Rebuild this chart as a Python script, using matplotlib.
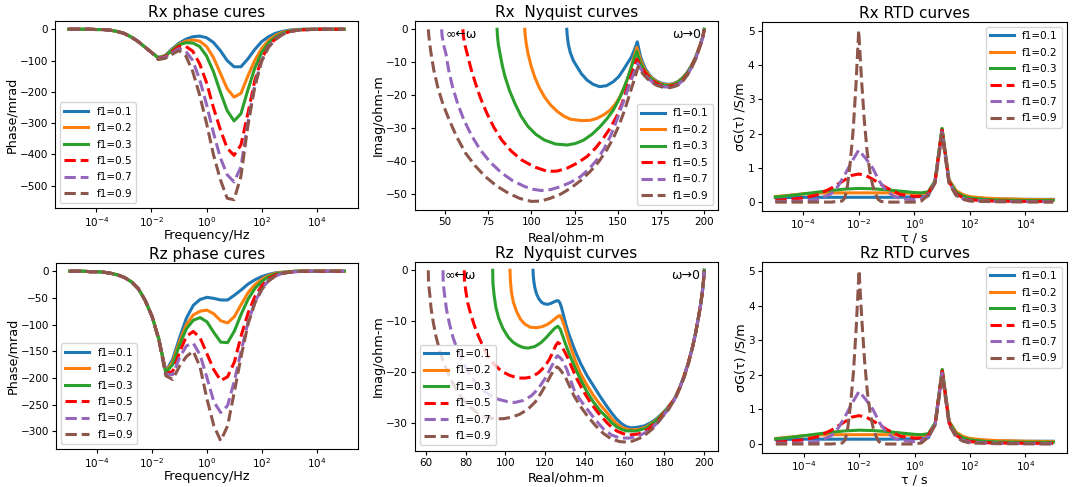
import numpy as np
import matplotlib
matplotlib.use("Agg")
import matplotlib.pyplot as plt
from matplotlib.ticker import NullLocator

# ---- common series styling ----
labels = ["f1=0.1", "f1=0.2", "f1=0.3", "f1=0.5", "f1=0.7", "f1=0.9"]
colors = ["#1f77b4", "#ff7f0e", "#2ca02c", "red", "#9467bd", "#8c564b"]
styles = ["-", "-", "-", "--", "--", "--"]

# ---- phase curves (mrad), sampled at log10(f) = -5, -4.75, ..., 5 ----
freq_exp = np.linspace(-5, 5, 41)

rx_phase_01 = [0, 0, 0, 0, -1, -1, -3, -7, -13, -24, -38, -56, -74, -90, -84, -63, -45, -32, -24, -22, -27,
               -42, -68, -100, -120, -120, -95, -65, -40, -24, -13, -7, -3, -1, 0, 0, 0, 0, 0, 0, 0]
rx_phase_02 = [0, 0, 0, 0, -1, -1, -3, -7, -13, -24, -38, -56, -74, -91, -85, -66, -48, -38, -34, -38, -55,
               -90, -140, -190, -217, -205, -150, -100, -62, -36, -20, -10, -5, -2, -1, 0, 0, 0, 0, 0, 0]
rx_phase_03 = [0, 0, 0, 0, -1, -1, -3, -7, -13, -24, -38, -56, -74, -92, -86, -68, -50, -43, -44, -55, -85,
               -135, -200, -260, -293, -270, -195, -125, -75, -44, -25, -13, -6, -3, -1, 0, 0, 0, 0, 0, 0]
rx_phase_05 = [0, 0, 0, 0, -1, -1, -3, -7, -13, -24, -38, -56, -74, -93, -88, -72, -55, -55, -70, -110, -170,
               -250, -320, -380, -403, -370, -270, -165, -95, -54, -31, -16, -8, -4, -2, -1, 0, 0, 0, 0, 0]
rx_phase_07 = [0, 0, 0, 0, -1, -1, -3, -7, -13, -24, -38, -56, -74, -94, -90, -76, -62, -70, -100, -160, -240,
               -330, -410, -465, -488, -440, -300, -180, -100, -56, -32, -17, -8, -4, -2, -1, 0, 0, 0, 0, 0]
rx_phase_09 = [0, 0, 0, 0, -1, -1, -3, -7, -13, -24, -38, -56, -74, -97, -93, -80, -68, -85, -135, -210, -300,
               -400, -480, -540, -545, -470, -310, -185, -103, -58, -33, -17, -8, -4, -2, -1, 0, 0, 0, 0, 0]

rz_phase_01 = [0, 0, 0, -1, -1, -2, -4, -7, -12, -20, -33, -55, -85, -128, -188, -165, -125, -88, -64, -53, -49,
               -51, -54, -54, -45, -35, -24, -16, -10, -6, -3, -2, -1, 0, 0, 0, 0, 0, 0, 0, 0]
rz_phase_02 = [0, 0, 0, -1, -1, -2, -4, -7, -12, -20, -33, -55, -85, -128, -189, -170, -132, -100, -82, -75, -73,
               -80, -93, -97, -85, -62, -40, -25, -15, -8, -4, -2, -1, 0, 0, 0, 0, 0, 0, 0, 0]
rz_phase_03 = [0, 0, 0, -1, -1, -2, -4, -7, -12, -20, -33, -55, -85, -128, -190, -175, -138, -108, -92, -87, -95,
               -115, -133, -134, -112, -80, -52, -32, -19, -10, -5, -3, -1, 0, 0, 0, 0, 0, 0, 0, 0]
rz_phase_05 = [0, 0, 0, -1, -1, -2, -4, -7, -12, -20, -33, -55, -85, -129, -192, -188, -152, -122, -113, -125, -155,
               -185, -205, -198, -170, -120, -78, -47, -27, -14, -7, -4, -2, -1, 0, 0, 0, 0, 0, 0, 0]
rz_phase_07 = [0, 0, 0, -1, -1, -2, -4, -7, -12, -20, -33, -55, -85, -129, -193, -194, -162, -140, -135, -157, -200,
               -245, -265, -252, -205, -148, -95, -57, -33, -17, -9, -4, -2, -1, 0, 0, 0, 0, 0, 0, 0]
rz_phase_09 = [0, 0, 0, -1, -1, -2, -4, -7, -12, -20, -33, -55, -85, -130, -196, -203, -178, -160, -150, -180, -240,
               -290, -318, -290, -225, -158, -98, -59, -34, -18, -9, -4, -2, -1, 0, 0, 0, 0, 0, 0, 0]

# ---- Rx Nyquist curves (real, imag in ohm-m) ----
rx_nyq_real_01 = [120.5, 120.8, 121.4, 122.5, 124.3, 126.5, 129, 132.2, 135.8, 139.5, 143.5, 147.4, 150.5, 153.1,
                  155.7, 157.9, 159.8, 161.3, 162.2, 163, 164.5, 166, 168, 170, 172.5, 175, 177.5, 180, 182.5, 185,
                  187.5, 190, 192.5, 195, 196.8, 198, 199.3, 200]
rx_nyq_imag_01 = [0, -2, -4.5, -7, -9.5, -11.4, -13.5, -15.4, -16.7, -17.4, -17.1, -15.9, -14.4, -12.4,
                  -10.2, -8.4, -6, -3.8, -6, -8, -10.2, -12, -13.6, -14.8, -15.7, -16.3, -16.6, -16.7, -16.4, -15.8,
                  -14.7, -13.2, -11.1, -8.5, -6, -4.2, -2, 0]
rx_nyq_real_02 = [96.2, 96.5, 97.1, 98.1, 99.8, 101.9, 104.5, 107.6, 111.2, 115.2, 119, 122.8, 129.4, 134, 138, 142,
                  145.6, 148.6, 151.2, 153.8, 156, 157.6, 158.8, 160, 161, 162, 163, 164.5, 166, 168, 170, 172.5, 175,
                  177.5, 180, 182.5, 185, 187.5, 190, 192.5, 195, 196.8, 198, 199.3, 200]
rx_nyq_imag_02 = [0, -2, -4.5, -7.4, -11, -14.4, -17.6, -20.5, -23, -25, -26.4, -27.3, -27.7, -27.6, -27, -25.9,
                  -24.5, -22.7, -20.5, -17.6, -14.4, -11.8, -9.4, -7.3, -5.5, -7.3, -9, -11, -12.5, -13.9, -15, -15.9,
                  -16.5, -16.8, -16.8, -16.5, -15.9, -14.8, -13.3, -11.2, -8.5, -6, -4.2, -2, 0]
rx_nyq_real_03 = [80.2, 80.4, 80.9, 81.9, 83.2, 84.8, 87.4, 90.5, 94, 98.1, 102.7, 107.6, 114, 120.8, 125.7, 130.3,
                  135.2, 139.8, 143.8, 147.4, 150.4, 153.1, 155.6, 157.9, 159.6, 161, 162, 163, 164.5, 166, 168, 170,
                  172.5, 175, 177.5, 180, 182.5, 185, 187.5, 190, 192.5, 195, 196.8, 198, 199.3, 200]
rx_nyq_imag_03 = [0, -2, -4.6, -7.4, -11, -14.4, -18.6, -22.5, -26.3, -29.5, -31.9, -33.6, -34.8, -35.1, -34.6, -33.6,
                  -31.8, -29.5, -27.1, -24.5, -21.6, -18.4, -15, -11.4, -8.8, -6.7, -8.5, -10, -11.7, -13, -14.3,
                  -15.3, -16.1, -16.7, -17, -17, -16.7, -16, -14.9, -13.4, -11.3, -8.6, -6.1, -4.3, -2, 0]
rx_nyq_real_05 = [60.4, 60.7, 61.5, 62.9, 65, 67.7, 70.7, 74.3, 78.4, 82.9, 88.3, 94.3, 101.5, 109.4, 115, 120.8,
                  126.5, 132.2, 137.2, 141.7, 145.7, 149.3, 152.4, 155, 157.4, 159.4, 161, 163, 165, 167.5, 170,
                  172.5, 175, 177.5, 180, 182.5, 185, 187.5, 190, 192.5, 195, 196.8, 198, 199.3, 200]
rx_nyq_imag_05 = [0, -2, -4.6, -7.4, -11.8, -16.4, -21, -25.5, -29.8, -33.6, -36.9, -39.6, -41.7, -43.1, -43, -42.1,
                  -40.6, -38.6, -36, -33, -29.9, -26.5, -22.6, -18.4, -14.7, -11.6, -9, -11, -12.5, -14.2, -15.5,
                  -16.4, -17, -17.3, -17.3, -17, -16.5, -15.4, -13.8, -11.6, -8.8, -6.2, -4.4, -2, 0]
rx_nyq_real_07 = [48.1, 48.4, 49.2, 50.6, 52.2, 54.4, 57.4, 61, 65.4, 70.5, 76.4, 82.9, 89.4, 96.2, 100.8, 105.6,
                  111.3, 117.1, 122.8, 128.4, 133.3, 137.9, 142, 145.6, 149, 152.2, 154.8, 157, 159.4, 161.5, 163,
                  165, 167.5, 170, 172.5, 175, 177.5, 180, 182.5, 185, 187.5, 190, 192.5, 195, 196.8, 198, 199.3, 200]
rx_nyq_imag_07 = [0, -2, -4.6, -7.4, -12.4, -17.4, -22.6, -27.5, -32.2, -36.6, -40.4, -43.6, -46, -47.7, -48.5, -48.9,
                  -48.6, -47.7, -46.4, -44.7, -42.4, -39.6, -36.3, -32.6, -28.2, -23.5, -19.8, -16.4, -13.2, -10.3,
                  -11.8, -13.2, -14.8, -16, -16.8, -17.2, -17.5, -17.5, -17.2, -16.7, -15.6, -14, -11.8, -9, -6.3,
                  -4.5, -2.1, 0]
rx_nyq_real_09 = [40.4, 40.7, 41.3, 42, 43.6, 45.8, 48.8, 52.5, 56.9, 62, 67.5, 73.4, 79.9, 86.7, 93.3, 100, 105.6,
                  111.3, 117, 122.7, 128.5, 134.1, 139.1, 143.6, 147.6, 151.2, 154.3, 157, 159.6, 161.8, 163.2, 165,
                  167.5, 170, 172.5, 175, 177.5, 180, 182.5, 185, 187.5, 190, 192.5, 195, 196.8, 198, 199.3, 200]
rx_nyq_imag_09 = [0, -2, -4.6, -7.4, -12.4, -17.4, -22.6, -27.5, -32.7, -37.6, -41.4, -44.7, -47.5, -49.7, -51.3,
                  -52.2, -52.1, -51.2, -50, -48.2, -45.9, -43.1, -40.1, -36.6, -32.8, -28.5, -24, -19.5, -15.2, -11.3,
                  -12.6, -13.8, -15.2, -16.2, -17, -17.4, -17.7, -17.7, -17.4, -16.9, -15.8, -14.1, -11.9, -9.1,
                  -6.4, -4.5, -2.1, 0]

# ---- Rz Nyquist curves (real, imag in ohm-m) ----
rz_nyq_real_01 = [113.9, 114, 114.3, 114.8, 115.6, 116.8, 118.2, 119.6, 121.3, 122.9, 124.5, 125.7, 126.6, 127.4,
                  128.2, 129.2, 130.3, 131.5, 132.8, 135.2, 137.8, 141, 144.4, 147.6, 150.9, 153.5, 156, 158.5, 161,
                  163.5, 166, 170, 173, 176, 178.5, 181, 185, 187.5, 190, 192, 194, 195.6, 197, 198.2, 199, 199.6, 200]
rz_nyq_imag_01 = [0, -1, -2.2, -3.4, -4.6, -5.6, -6.3, -6.6, -6.7, -6.5, -6.2, -6.0, -6.0, -6.4,
                  -7.3, -8.8, -10.5, -12.1, -13.5, -16, -18.3, -20.7, -22.8, -24.8, -26.7, -28.1, -29.3, -30.2, -30.8,
                  -31, -30.9, -30.6, -30, -29.2, -28.3, -27.3, -25.3, -23.3, -20.7, -18.2, -15.3, -12.5, -9.5, -6.8,
                  -4.5, -2.3, 0]
rz_nyq_real_02 = [102.3, 102.5, 103, 104, 105.6, 107.5, 109.8, 112.5, 115.5, 118.5, 121.3, 123.5, 125.4, 126.6, 127.5,
                  128.4, 129.5, 131, 132.8, 135.2, 137.8, 141, 144.4, 147.6, 150.9, 153.5, 156, 159, 162.5, 167, 171,
                  176, 181, 185, 187.5, 190, 192, 194, 195.6, 197, 198.2, 199, 199.6, 200]
rz_nyq_imag_02 = [0, -2, -4.2, -6.3, -8.1, -9.6, -10.6, -11.2, -11.3, -11.1, -10.6, -10, -9.4, -9, -8.9,
                  -9.6, -10.8, -12.8, -15.1, -17.8, -20.3, -22.6, -24.7, -26.4, -27.9, -29.2, -30.2, -31, -31.4, -31.3,
                  -30.8, -29.4, -27.4, -25.3, -23.3, -20.7, -18.2, -15.3, -12.5, -9.5, -6.8, -4.5, -2.3, 0]
rz_nyq_real_03 = [93.6, 93.7, 94.3, 95.2, 96.6, 98.8, 101.5, 104, 106.5, 109, 111.4, 114.8, 118, 120.6, 122.9, 124.8,
                  126.4, 127.6, 128.7, 130.6, 132.8, 135.3, 137.8, 141, 144.4, 147.6, 150.9, 153.5, 156, 158.5, 161,
                  166, 171, 176, 181, 185, 187.5, 190, 192, 194, 195.6, 197, 198.2, 199, 199.6, 200]
rz_nyq_imag_03 = [0, -2.5, -4.9, -7.3, -9.4, -11.5, -13.2, -14.2, -14.8, -15.2, -15.3, -15, -14.2, -13.2, -12.2, -11.4,
                  -11, -11.6, -12.8, -14.9, -17.1, -19.4, -21.5, -23.9, -26, -27.6, -28.9, -30, -30.8, -31.3, -31.6,
                  -31.6, -31, -29.5, -27.5, -25.4, -23.3, -20.7, -18.2, -15.3, -12.5, -9.5, -6.8, -4.5, -2.3, 0]
rz_nyq_real_05 = [79.3, 79.4, 80.1, 81.1, 82.6, 84.5, 86.7, 89, 91.6, 94.8, 98.2, 102.3, 106.5, 110, 113, 116.5, 119.6,
                  122, 124, 125.3, 126.4, 127.4, 128.5, 129.8, 131.2, 133.6, 136.1, 139.4, 142.7, 146.8, 150.9, 153.5,
                  156, 159, 162, 167, 172, 177, 181, 185, 187.5, 190, 192, 194, 195.6, 197, 198.2, 199, 199.6, 200]
rz_nyq_imag_05 = [0, -2, -4.2, -6.5, -8.7, -11, -13.2, -15.2, -17.1, -18.7, -19.9, -20.7, -21.2, -21.2, -21, -20.2, -19,
                  -17.6, -16, -14.8, -14.2, -14.5, -15.1, -16, -17.1, -19.3, -21.5, -23.9, -26, -28.1, -29.9, -30.9,
                  -31.6, -32.1, -32.4, -32.2, -31.2, -29.5, -27.6, -25.4, -23.3, -20.7, -18.2, -15.3, -12.5, -9.5,
                  -6.8, -4.5, -2.3, 0]
rz_nyq_real_07 = [68.6, 68.7, 69.4, 70.4, 71.9, 73.7, 76, 78.7, 81.7, 84.9, 88.3, 92.4, 96.6, 100.7, 104.8, 109, 113,
                  116.5, 119.6, 122, 124, 125.3, 126.2, 127.3, 128.5, 129.7, 131, 132.7, 134.5, 137.8, 141.1, 145.2,
                  149.3, 153.4, 157.5, 162.5, 167, 172, 177, 181, 185, 187.5, 190, 192, 194, 195.6, 197, 198.2, 199,
                  199.6, 200]
rz_nyq_imag_07 = [0, -2.5, -4.9, -7.8, -10.6, -13.3, -15.8, -18.2, -20.3, -22, -23.5, -24.6, -25.4, -25.8, -26, -25.6,
                  -24.7, -23.3, -21.5, -19.8, -18.3, -17.3, -16.8, -17.1, -17.6, -18.5, -19.6, -21.5, -23.5, -25.6,
                  -27.3, -29.4, -31.2, -32.4, -33, -33, -32.6, -31.6, -29.8, -27.8, -25.5, -23.3, -20.7, -18.2, -15.3,
                  -12.5, -9.5, -6.8, -4.5, -2.3, 0]
rz_nyq_real_09 = [61.2, 61.3, 62, 62.6, 63.6, 65, 66.9, 69.2, 71.9, 75, 78.5, 82.5, 86.7, 90.8, 94.9, 99, 103.2, 107.3,
                  111.4, 115, 118, 120.6, 122.9, 124.6, 125.9, 127, 128, 129.2, 130.5, 132.5, 134.5, 137.8, 141.1,
                  145.2, 149.3, 153.4, 157.5, 160.8, 164, 169, 174, 178, 182, 186, 190, 192, 194, 195.6, 197, 198.2,
                  199, 199.6, 200]
rz_nyq_imag_09 = [0, -2.5, -4.9, -7.5, -10, -12.9, -15.8, -18.5, -20.9, -23.3, -25.4, -27, -28.3, -29, -29.2, -29.2,
                  -28.9, -28.3, -27.3, -25.9, -24.1, -22.3, -20.6, -19.5, -19, -19.3, -19.8, -20.5, -21.3, -23, -24.7,
                  -26.8, -28.6, -30.5, -32.1, -33.2, -33.7, -33.8, -33.6, -32.8, -31.2, -29.3, -27.4, -24.8, -21,
                  -18.5, -15.4, -12.5, -9.5, -6.8, -4.5, -2.3, 0]

# ---- RTD curves (log10 tau, sigma*G(tau) in S/m); both panels show the same distribution ----
rtd_exp_01 = [-5, -4, -3, -2, -1, 0, 0.5, 0.75, 1, 1.25, 1.5, 1.75, 2, 2.5, 3, 4, 5]
rtd_val_01 = [0.13, 0.14, 0.14, 0.14, 0.14, 0.15, 0.18, 0.62, 2.15, 0.64, 0.32, 0.2, 0.14, 0.11, 0.09, 0.08, 0.08]
rtd_exp_02 = [-5, -4.5, -4, -3.5, -3, -2, -1, 0, 0.5, 0.75, 1, 1.25, 1.5, 1.75, 2, 2.5, 3, 4, 5]
rtd_val_02 = [0.16, 0.2, 0.24, 0.26, 0.27, 0.27, 0.27, 0.26, 0.24, 0.62, 2.15, 0.66, 0.34, 0.22, 0.16, 0.12, 0.1, 0.08, 0.07]
rtd_exp_03 = [-5, -4.5, -4, -3.5, -3, -2.5, -2, -1.5, -1, -0.5, 0, 0.25, 0.5, 0.75, 1, 1.25, 1.5, 1.75, 2, 2.5, 3, 4, 5]
rtd_val_03 = [0.15, 0.19, 0.24, 0.29, 0.34, 0.38, 0.4, 0.39, 0.36, 0.32, 0.28, 0.27, 0.3, 0.62, 2.15, 0.64, 0.3, 0.18,
              0.12, 0.08, 0.06, 0.05, 0.05]
rtd_exp_05 = [-5, -4.5, -4, -3.5, -3, -2.5, -2.25, -2, -1.75, -1.5, -1, -0.5, 0, 0.25, 0.5, 0.75, 1, 1.25, 1.5, 1.75,
              2, 2.5, 3, 4, 5]
rtd_val_05 = [0.05, 0.08, 0.12, 0.21, 0.4, 0.65, 0.78, 0.82, 0.78, 0.67, 0.42, 0.22, 0.17, 0.17, 0.25, 0.6, 2.1, 0.6,
              0.25, 0.13, 0.07, 0.04, 0.03, 0.02, 0.02]
rtd_exp_07 = [-5, -4, -3.5, -3, -2.75, -2.5, -2.25, -2, -1.75, -1.5, -1.25, -1, -0.75, -0.5, 0, 0.25, 0.5, 0.75, 1,
              1.25, 1.5, 1.75, 2, 3, 5]
rtd_val_07 = [0.02, 0.03, 0.07, 0.24, 0.46, 0.8, 1.18, 1.52, 1.28, 1.0, 0.6, 0.33, 0.18, 0.1, 0.07, 0.1, 0.22, 0.58,
              2.05, 0.58, 0.22, 0.1, 0.05, 0.02, 0.01]
rtd_exp_09 = [-5, -3, -2.6, -2.5, -2.4, -2.3, -2.2, -2.1, -2, -1.9, -1.8, -1.7, -1.6, -1.5, -1.4, -1.3, -1.2, -1, 0,
              0.25, 0.5, 0.75, 1, 1.25, 1.5, 1.75, 2, 3, 5]
rtd_val_09 = [0.0, 0.0, 0.03, 0.12, 0.5, 1.2, 2.1, 3.4, 5.02, 3.6, 2.4, 1.5, 0.9, 0.5, 0.25, 0.08, 0.02, 0.0, 0.0,
              0.03, 0.2, 0.55, 2.0, 0.55, 0.2, 0.08, 0.03, 0.01, 0.0]

rx_phase = [rx_phase_01, rx_phase_02, rx_phase_03, rx_phase_05, rx_phase_07, rx_phase_09]
rz_phase = [rz_phase_01, rz_phase_02, rz_phase_03, rz_phase_05, rz_phase_07, rz_phase_09]
rx_nyq = [(rx_nyq_real_01, rx_nyq_imag_01), (rx_nyq_real_02, rx_nyq_imag_02), (rx_nyq_real_03, rx_nyq_imag_03),
          (rx_nyq_real_05, rx_nyq_imag_05), (rx_nyq_real_07, rx_nyq_imag_07), (rx_nyq_real_09, rx_nyq_imag_09)]
rz_nyq = [(rz_nyq_real_01, rz_nyq_imag_01), (rz_nyq_real_02, rz_nyq_imag_02), (rz_nyq_real_03, rz_nyq_imag_03),
          (rz_nyq_real_05, rz_nyq_imag_05), (rz_nyq_real_07, rz_nyq_imag_07), (rz_nyq_real_09, rz_nyq_imag_09)]
rtd = [(rtd_exp_01, rtd_val_01), (rtd_exp_02, rtd_val_02), (rtd_exp_03, rtd_val_03),
       (rtd_exp_05, rtd_val_05), (rtd_exp_07, rtd_val_07), (rtd_exp_09, rtd_val_09)]

W, H = 1072, 487
TITLE_FS = 11
LABEL_FS = 9.2
TICK_FS = 7.5
LEG_FS = 7.5
LW = 2.2


def add_axes_px(fig, left, top, right, bottom):
    ax = fig.add_axes([left / W, 1 - bottom / H, (right - left) / W, (bottom - top) / H])
    ax.height_px = bottom - top
    return ax


def style_axes(ax, title, xlabel, ylabel, legend_loc):
    ax.set_title(title, fontsize=TITLE_FS, pad=3)
    ax.set_xlabel(xlabel, fontsize=LABEL_FS)
    # x label centred under the tick labels, as in the reference
    ax.xaxis.set_label_coords(0.5, -27.5 / ax.height_px)
    ax.xaxis.label.set_verticalalignment("center")
    ax.set_ylabel(ylabel, fontsize=LABEL_FS, labelpad=1)
    ax.tick_params(labelsize=TICK_FS, length=3, pad=2)
    ax.legend(loc=legend_loc, fontsize=LEG_FS, handlelength=2.3, labelspacing=0.62,
              borderpad=0.4, handletextpad=0.8)


def log_x(ax):
    ax.set_xscale("log")
    ax.set_xticks([1e-4, 1e-2, 1e0, 1e2, 1e4])
    ax.xaxis.set_minor_locator(NullLocator())


fig = plt.figure(figsize=(W / 100, H / 100), dpi=100)

# Row 1: Rx
ax1 = add_axes_px(fig, 55, 20.7, 358, 208.3)
for vals, c, ls, lab in zip(rx_phase, colors, styles, labels):
    ax1.plot(10.0 ** freq_exp, vals, color=c, linestyle=ls, lw=LW, label=lab)
log_x(ax1)
ax1.set_yticks([0, -100, -200, -300, -400, -500])
style_axes(ax1, "Rx phase cures", "Frequency/Hz", "Phase/mrad", "lower left")

ax2 = add_axes_px(fig, 414.5, 20.7, 718, 210)
for (re, im), c, ls, lab in zip(rx_nyq, colors, styles, labels):
    ax2.plot(re, im, color=c, linestyle=ls, lw=LW, label=lab)
ax2.set_xticks([50, 75, 100, 125, 150, 175, 200])
ax2.set_yticks([0, -10, -20, -30, -40, -50])
ax2.text(50.6, -1.6, "\u221e\u2190\u03c9", fontsize=9, ha="left", va="center")
ax2.text(198, -1.6, "\u03c9\u21920", fontsize=9, ha="right", va="center")
style_axes(ax2, "Rx  Nyquist curves", "Real/ohm-m", "Imag/ohm-m", "lower right")

ax3 = add_axes_px(fig, 761.5, 21.7, 1067, 210.7)
for (ex, v), c, ls, lab in zip(rtd, colors, styles, labels):
    ax3.plot(10.0 ** np.array(ex), v, color=c, linestyle=ls, lw=LW, label=lab)
log_x(ax3)
ax3.set_yticks([0, 1, 2, 3, 4, 5])
style_axes(ax3, "Rx RTD curves", "\u03c4 / s", "\u03c3G(\u03c4) /S/m", "upper right")

# Row 2: Rz
ax4 = add_axes_px(fig, 56, 262.7, 358, 449.3)
for vals, c, ls, lab in zip(rz_phase, colors, styles, labels):
    ax4.plot(10.0 ** freq_exp, vals, color=c, linestyle=ls, lw=LW, label=lab)
log_x(ax4)
ax4.set_yticks([0, -50, -100, -150, -200, -250, -300])
style_axes(ax4, "Rz phase cures", "Frequency/Hz", "Phase/mrad", "lower left")

ax5 = add_axes_px(fig, 414.5, 261.7, 718, 450.7)
for (re, im), c, ls, lab in zip(rz_nyq, colors, styles, labels):
    ax5.plot(re, im, color=c, linestyle=ls, lw=LW, label=lab)
ax5.set_xticks([60, 80, 100, 120, 140, 160, 180, 200])
ax5.set_yticks([0, -10, -20, -30])
ax5.text(69.4, -1.0, "\u221e\u2190\u03c9", fontsize=9, ha="left", va="center")
ax5.text(198, -1.0, "\u03c9\u21920", fontsize=9, ha="right", va="center")
style_axes(ax5, "Rz  Nyquist curves", "Real/ohm-m", "Imag/ohm-m", "lower left")

ax6 = add_axes_px(fig, 762, 261.7, 1067, 452.7)
for (ex, v), c, ls, lab in zip(rtd, colors, styles, labels):
    ax6.plot(10.0 ** np.array(ex), v, color=c, linestyle=ls, lw=LW, label=lab)
log_x(ax6)
ax6.set_yticks([0, 1, 2, 3, 4, 5])
style_axes(ax6, "Rz RTD curves", "\u03c4 / s", "\u03c3G(\u03c4) /S/m", "upper right")

fig.savefig("out.png", dpi=100)
plt.close(fig)
